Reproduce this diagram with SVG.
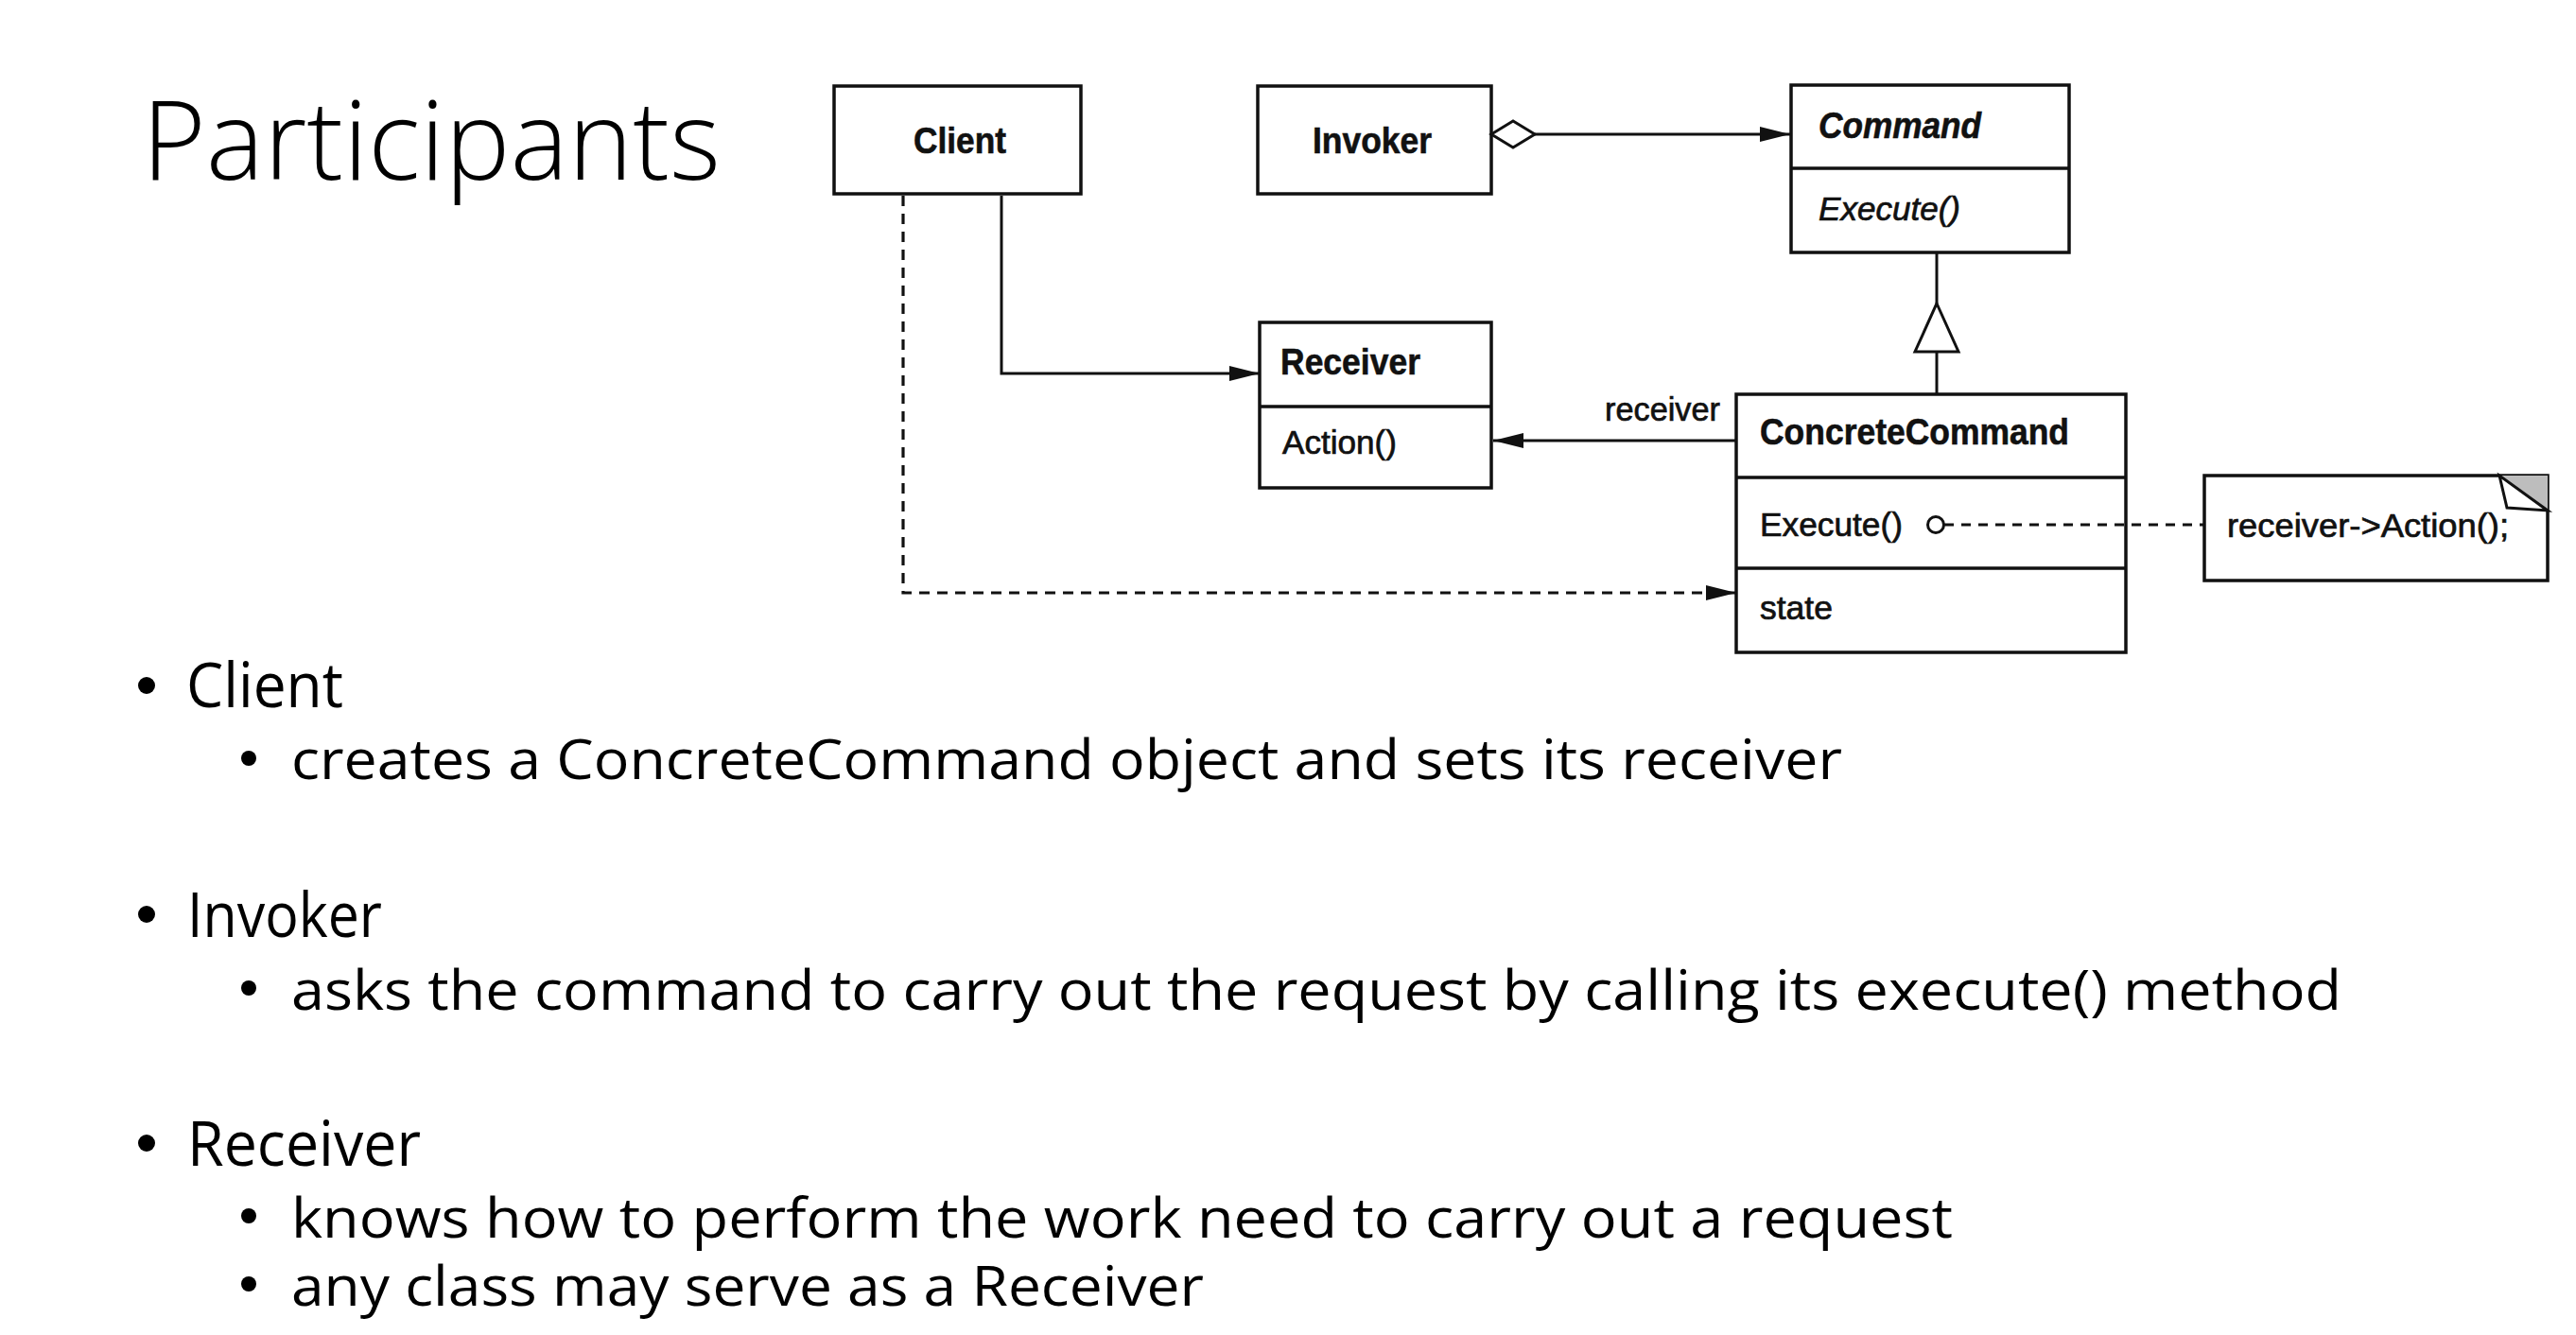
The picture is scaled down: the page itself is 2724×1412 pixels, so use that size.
<svg xmlns="http://www.w3.org/2000/svg" width="2724" height="1412" viewBox="0 0 2724 1412">
  <style>
    .box { fill: #ffffff; stroke: #111111; stroke-width: 3.5; }
    .div { stroke: #111111; stroke-width: 3.5; fill: none; }
    .line { stroke: #111111; stroke-width: 3; fill: none; }
    .dash { stroke: #111111; stroke-width: 3.2; fill: none; stroke-dasharray: 11 8; }
    .ndash { stroke: #111111; stroke-width: 3; fill: none; stroke-dasharray: 10 8; }
    .name { font-family: "Liberation Sans", Arial, sans-serif; font-weight: bold; font-size: 38px; fill: #111111; stroke: #111111; stroke-width: 0.6; }
    .abs { font-family: "Liberation Sans", Arial, sans-serif; font-weight: bold; font-style: italic; font-size: 38px; fill: #111111; stroke: #111111; stroke-width: 0.6; }
    .op { font-family: "Liberation Sans", Arial, sans-serif; font-size: 35px; fill: #111111; stroke: #111111; stroke-width: 0.7; }
    .opi { font-family: "Liberation Sans", Arial, sans-serif; font-style: italic; font-size: 35px; fill: #111111; stroke: #111111; stroke-width: 0.7; }
    .title { font-family: "Open Sans", "Liberation Sans", sans-serif; font-weight: 300; font-size: 116px; fill: #000000; }
    .l1 { font-family: "Open Sans", "Liberation Sans", sans-serif; font-size: 66px; fill: #000000; }
    .l2 { font-family: "Open Sans", "Liberation Sans", sans-serif; font-size: 58px; fill: #000000; }
    .dot { fill: #000000; }
  </style>
  <defs>
    <marker id="arrow" markerUnits="userSpaceOnUse" markerWidth="34" markerHeight="18" refX="32" refY="8" orient="auto">
      <path d="M0,0 L32,8 L0,16 z" fill="#111111"/>
    </marker>
  </defs>
  <rect width="2724" height="1412" fill="#ffffff"/>

  <text class="title" x="150" y="190" textLength="612" lengthAdjust="spacingAndGlyphs">Participants</text>

  <g id="client">
    <rect class="box" x="882" y="91" width="261" height="114"/>
    <text class="name" x="966" y="162" textLength="98" lengthAdjust="spacingAndGlyphs">Client</text>
  </g>

  <g id="invoker">
    <rect class="box" x="1330" y="91" width="247" height="114"/>
    <text class="name" x="1388" y="162" textLength="126" lengthAdjust="spacingAndGlyphs">Invoker</text>
  </g>

  <g id="command">
    <rect class="box" x="1894" y="90" width="294" height="177"/>
    <line class="div" x1="1894" y1="178" x2="2188" y2="178"/>
    <text class="abs" x="1923" y="146" textLength="172" lengthAdjust="spacingAndGlyphs">Command</text>
    <text class="opi" x="1923" y="233" textLength="150" lengthAdjust="spacingAndGlyphs">Execute()</text>
  </g>

  <g id="receiver">
    <rect class="box" x="1332" y="341" width="245" height="175"/>
    <line class="div" x1="1332" y1="430" x2="1577" y2="430"/>
    <text class="name" x="1354" y="396" textLength="148" lengthAdjust="spacingAndGlyphs">Receiver</text>
    <text class="op" x="1356" y="480" textLength="121" lengthAdjust="spacingAndGlyphs">Action()</text>
  </g>

  <g id="concrete-command">
    <rect class="box" x="1836" y="417" width="412" height="273"/>
    <line class="div" x1="1836" y1="505" x2="2248" y2="505"/>
    <line class="div" x1="1836" y1="601" x2="2248" y2="601"/>
    <text class="name" x="1861" y="470" textLength="327" lengthAdjust="spacingAndGlyphs">ConcreteCommand</text>
    <text class="op" x="1861" y="567" textLength="151" lengthAdjust="spacingAndGlyphs">Execute()</text>
    <text class="op" x="1861" y="655" textLength="77" lengthAdjust="spacingAndGlyphs">state</text>
  </g>

  <g id="note">
    <rect class="box" x="2331" y="503" width="363" height="111"/>
    <polygon points="2643,503 2694,503 2694,540" fill="#bdbdbd" stroke="none"/>
    <polygon points="2643,503 2651,537 2694,540" fill="#ffffff" stroke="#111111" stroke-width="3"/>
    <text class="op" x="2355" y="568" textLength="298" lengthAdjust="spacingAndGlyphs">receiver-&gt;Action();</text>
  </g>

  <!-- connectors, drawn over the class boxes -->
  <g id="connectors">
    <!-- Client creates ConcreteCommand -->
    <path class="dash" d="M955,207 L955,627 L1836,627" marker-end="url(#arrow)"/>
    <!-- Client knows Receiver -->
    <path class="line" d="M1059,207 L1059,395 L1332,395" marker-end="url(#arrow)"/>
    <!-- Invoker aggregates Command -->
    <polygon points="1577,142 1600,128 1623,142 1600,156" fill="#ffffff" stroke="#111111" stroke-width="3"/>
    <line class="line" x1="1623" y1="142" x2="1893" y2="142" marker-end="url(#arrow)"/>
    <!-- ConcreteCommand inherits Command -->
    <line class="line" x1="2048" y1="268" x2="2048" y2="321"/>
    <polygon points="2048,321 2071,372 2025,372" fill="#ffffff" stroke="#111111" stroke-width="3"/>
    <line class="line" x1="2048" y1="372" x2="2048" y2="417"/>
    <!-- ConcreteCommand -> Receiver -->
    <line class="line" x1="1836" y1="466" x2="1579" y2="466" marker-end="url(#arrow)"/>
    <text class="op" x="1697" y="445" textLength="122" lengthAdjust="spacingAndGlyphs">receiver</text>
    <!-- Execute() annotation -->
    <circle cx="2047" cy="555" r="8.5" fill="#ffffff" stroke="#111111" stroke-width="3"/>
    <line class="ndash" x1="2056" y1="555" x2="2331" y2="555"/>
  </g>

  <!-- bullet list -->
  <g id="bullets">
    <circle class="dot" cx="155" cy="725" r="9"/>
    <text class="l1" x="197" y="748" textLength="166" lengthAdjust="spacingAndGlyphs">Client</text>
    <circle class="dot" cx="263" cy="802" r="8"/>
    <text class="l2" x="308" y="824" textLength="1640" lengthAdjust="spacingAndGlyphs">creates a ConcreteCommand object and sets its receiver</text>

    <circle class="dot" cx="155" cy="967" r="9"/>
    <text class="l1" x="198" y="991" textLength="206" lengthAdjust="spacingAndGlyphs">Invoker</text>
    <circle class="dot" cx="263" cy="1045" r="8"/>
    <text class="l2" x="308" y="1068" textLength="2168" lengthAdjust="spacingAndGlyphs">asks the command to carry out the request by calling its execute() method</text>

    <circle class="dot" cx="155" cy="1209" r="9"/>
    <text class="l1" x="198" y="1233" textLength="247" lengthAdjust="spacingAndGlyphs">Receiver</text>
    <circle class="dot" cx="263" cy="1286" r="8"/>
    <text class="l2" x="308" y="1309" textLength="1757" lengthAdjust="spacingAndGlyphs">knows how to perform the work need to carry out a request</text>
    <circle class="dot" cx="263" cy="1358" r="8"/>
    <text class="l2" x="308" y="1381" textLength="965" lengthAdjust="spacingAndGlyphs">any class may serve as a Receiver</text>
  </g>
</svg>
